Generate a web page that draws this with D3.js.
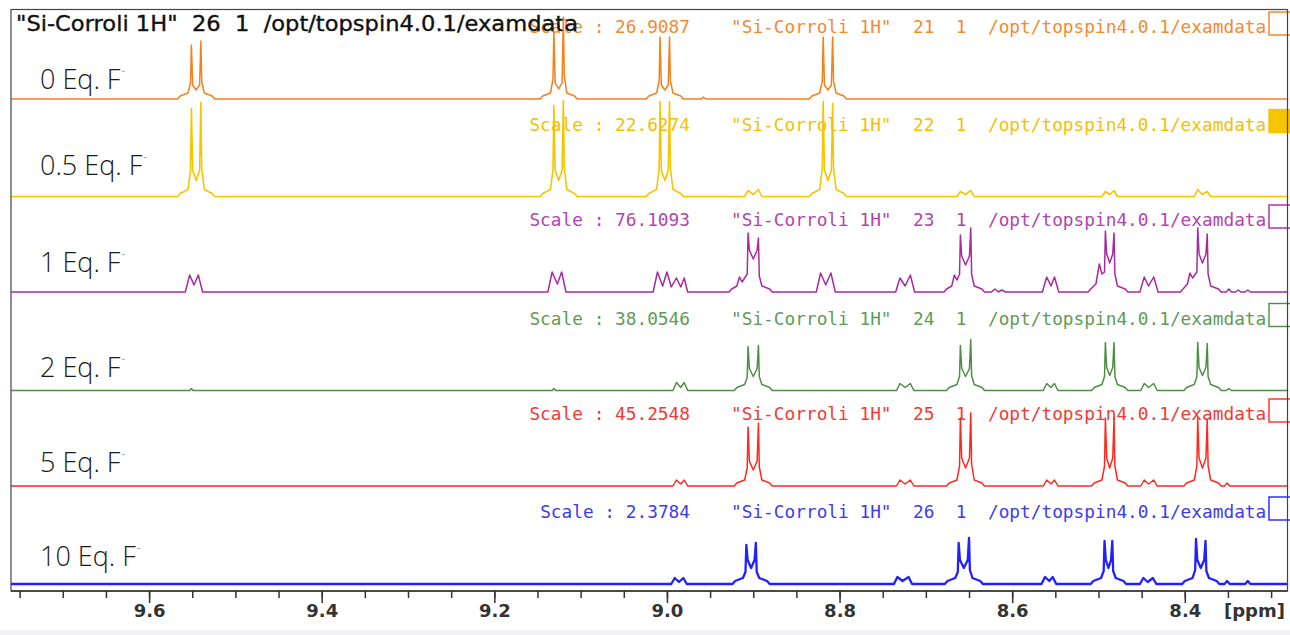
<!DOCTYPE html>
<html><head><meta charset="utf-8">
<script src="https://cdn.jsdelivr.net/npm/d3@7"></script>
<style>
html,body{margin:0;padding:0;background:#fff;}
svg{display:block;}
</style></head><body>
<svg id="chart" width="1290" height="635"></svg>
<script>
// ---------------- data ----------------
const rowLabels = ["0 Eq. F", "0.5 Eq. F", "1 Eq. F", "2 Eq. F", "5 Eq. F", "10 Eq. F"];
const scaleValues = ["26.9087", "22.6274", "76.1093", "38.0546", "45.2548", "2.3784"];
const expNumbers = [21, 22, 23, 24, 25, 26];
const procNumbers = [1, 1, 1, 1, 1, 1];
const datasetName = "Si-Corroli 1H";
const dataPath = "/opt/topspin4.0.1/examdata";
const titleExpno = 26;
const majorTicks = [9.6, 9.4, 9.2, 9.0, 8.8, 8.6, 8.4];
const minorTicks = [9.75, 9.70, 9.65, 9.60, 9.55, 9.50, 9.45, 9.40, 9.35, 9.30, 9.25, 9.20, 9.15, 9.10, 9.05,
  9.00, 8.95, 8.90, 8.85, 8.80, 8.75, 8.70, 8.65, 8.60, 8.55, 8.50, 8.45, 8.40, 8.35, 8.30];
const axisUnit = "[ppm]";

// spectra traces: [ppm, intensity]
const spec0 = [[9.76,0],
  [9.567,0],[9.564,3],[9.555,6],[9.552,16],[9.551,54],[9.5495,14],[9.5455,9],[9.5415,14],[9.540,58],[9.539,17],[9.536,6],[9.527,3],[9.524,0],
  [9.147,0],[9.144,3],[9.135,6],[9.132,20],[9.131,68],[9.1295,16],[9.1255,10],[9.1215,16],[9.120,82],[9.119,24],[9.116,6],[9.107,3],[9.104,0],
  [9.024,0],[9.021,3],[9.012,6],[9.009,18],[9.008,62],[9.0065,14],[9.0025,9],[8.9985,14],[8.997,62],[8.996,18],[8.993,6],[8.984,3],[8.981,0],
  [8.960,0],[8.958,2],[8.955,0],
  [8.835,0],[8.832,3],[8.823,6],[8.820,18],[8.819,62],[8.8175,14],[8.8135,9],[8.8095,14],[8.808,62],[8.807,18],[8.804,6],[8.795,3],[8.792,0],
  [8.28,0]];
const spec1 = [[9.76,0],
  [9.567,0],[9.564,3],[9.555,7],[9.552,26],[9.551,88],[9.5495,26],[9.5455,16],[9.5415,26],[9.540,94],[9.539,28],[9.536,7],[9.527,3],[9.524,0],
  [9.147,0],[9.144,3],[9.135,7],[9.132,27],[9.131,91],[9.1295,26],[9.1255,16],[9.1215,26],[9.120,96],[9.119,29],[9.116,7],[9.107,3],[9.104,0],
  [9.024,0],[9.021,3],[9.012,7],[9.009,28],[9.008,95],[9.0065,26],[9.0025,16],[8.9985,26],[8.997,95],[8.996,28],[8.993,7],[8.984,3],[8.981,0],
  [8.910,0],[8.906,6],[8.900,2],[8.894,7],[8.890,0],
  [8.835,0],[8.832,3],[8.823,7],[8.820,28],[8.819,95],[8.8175,26],[8.8135,16],[8.8095,26],[8.808,93],[8.807,28],[8.804,7],[8.795,3],[8.792,0],
  [8.664,0],[8.660,5],[8.654,2],[8.648,6],[8.644,0],
  [8.496,0],[8.492,5],[8.487,2],[8.482,6],[8.478,0],
  [8.389,0],[8.385,7],[8.380,2],[8.374,5],[8.370,0],
  [8.28,0]];
const spec2 = [[9.76,0],
  [9.558,0],[9.553,17],[9.548,7],[9.543,17],[9.538,0],
  [9.138,0],[9.133,20],[9.127,8],[9.122,20],[9.117,0],
  [9.016,0],[9.011,20],[9.005,6],[9.000,20],[8.995,5],[8.989,14],[8.984,5],[8.980,14],[8.976,0],
  [8.928,0],[8.925,3],[8.919,6],[8.916,15],[8.913,10],[8.907,18],[8.906,59],[8.9045,42],[8.900,33],[8.8955,42],[8.894,54],[8.893,16],[8.890,6],[8.881,3],[8.878,0],
  [8.827,0],[8.822,19],[8.816,7],[8.810,19],[8.805,0],
  [8.735,0],[8.730,14],[8.724,6],[8.718,17],[8.713,0],
  [8.679,0],[8.676,3],[8.670,6],[8.667,17],[8.664,12],[8.661,18],[8.660,57],[8.6585,36],[8.654,27],[8.6495,36],[8.648,64],[8.647,18],[8.644,6],[8.635,3],[8.632,0],
  [8.624,0],[8.620,3],[8.616,0],[8.612,2],[8.608,0],
  [8.565,0],[8.560,15],[8.555,6],[8.551,15],[8.546,0],
  [8.512,0],[8.509,3],[8.503,8],[8.499,28],[8.496,18],[8.493,20],[8.492,61],[8.4905,38],[8.487,29],[8.4835,38],[8.482,59],[8.481,18],[8.478,6],[8.469,3],[8.466,0],
  [8.452,0],[8.447,15],[8.442,6],[8.436,15],[8.431,0],
  [8.405,0],[8.402,3],[8.397,8],[8.394,19],[8.391,14],[8.386,20],[8.385,64],[8.3835,38],[8.3795,29],[8.3755,38],[8.374,58],[8.373,18],[8.370,6],[8.361,3],[8.358,0],
  [8.352,0],[8.349,3],[8.346,0],[8.341,0],[8.338,2],[8.335,0],[8.330,0],[8.327,2],[8.324,0],
  [8.28,0]];
const spec3 = [[9.76,0],[9.553,0],[9.551,2],[9.549,0],[9.133,0],[9.131,2],[9.129,0],
  [8.993,0],[8.989,8],[8.984,3],[8.980,8],[8.976,0],
  [8.922,0],[8.919,3],[8.910,6],[8.907,13],[8.906,44],[8.9045,22],[8.900,14],[8.8955,22],[8.894,45],[8.893,14],[8.890,6],[8.881,3],[8.878,0],
  [8.734,0],[8.730,7],[8.724,3],[8.718,7],[8.714,0],
  [8.676,0],[8.673,3],[8.664,6],[8.661,14],[8.660,45],[8.6585,22],[8.654,14],[8.6495,22],[8.648,51],[8.647,15],[8.644,6],[8.635,3],[8.632,0],
  [8.564,0],[8.560,7],[8.555,3],[8.551,7],[8.547,0],
  [8.508,0],[8.505,3],[8.496,6],[8.493,14],[8.492,48],[8.4905,23],[8.487,15],[8.4835,23],[8.482,48],[8.481,14],[8.478,6],[8.469,3],[8.466,0],
  [8.451,0],[8.447,7],[8.442,3],[8.436,7],[8.432,0],
  [8.401,0],[8.398,3],[8.389,6],[8.386,14],[8.385,48],[8.3835,23],[8.3795,15],[8.3755,23],[8.374,47],[8.373,14],[8.370,6],[8.361,3],[8.358,0],
  [8.352,0],[8.349,2],[8.346,0],
  [8.28,0]];
const spec4 = [[9.76,0],
  [8.993,0],[8.989,6],[8.984,2],[8.980,6],[8.976,0],
  [8.922,0],[8.919,3],[8.910,6],[8.907,18],[8.906,59],[8.9045,25],[8.900,16],[8.8955,25],[8.894,63],[8.893,19],[8.890,6],[8.881,3],[8.878,0],
  [8.734,0],[8.730,6],[8.724,2],[8.718,6],[8.714,0],
  [8.676,0],[8.673,3],[8.664,6],[8.661,20],[8.660,68],[8.6585,28],[8.654,18],[8.6495,28],[8.648,73],[8.647,22],[8.644,6],[8.635,3],[8.632,0],
  [8.564,0],[8.560,6],[8.555,2],[8.551,6],[8.547,0],
  [8.508,0],[8.505,3],[8.496,6],[8.493,20],[8.492,68],[8.4905,28],[8.487,18],[8.4835,28],[8.482,68],[8.481,20],[8.478,6],[8.469,3],[8.466,0],
  [8.451,0],[8.447,6],[8.442,2],[8.436,6],[8.432,0],
  [8.401,0],[8.398,3],[8.389,6],[8.386,20],[8.385,68],[8.3835,28],[8.3795,18],[8.3755,28],[8.374,67],[8.373,20],[8.370,6],[8.361,3],[8.358,0],
  [8.354,0],[8.351,3],[8.348,0],
  [8.28,0]];
const spec5 = [[9.76,0],
  [8.995,0],[8.991,6],[8.986,2],[8.981,6],[8.977,0],
  [8.924,0],[8.921,3],[8.912,6],[8.909,12],[8.908,39],[8.9065,24],[8.9025,16],[8.8985,24],[8.897,41],[8.896,12],[8.893,6],[8.884,3],[8.881,0],
  [8.737,0],[8.733,7],[8.727,3],[8.720,7],[8.716,0],
  [8.678,0],[8.675,3],[8.666,6],[8.663,12],[8.662,41],[8.6605,24],[8.656,16],[8.6515,24],[8.650,46],[8.649,14],[8.646,6],[8.637,3],[8.634,0],
  [8.566,0],[8.562,7],[8.557,3],[8.553,7],[8.549,0],
  [8.509,0],[8.506,3],[8.497,6],[8.494,13],[8.493,43],[8.4915,24],[8.4885,16],[8.4855,24],[8.484,43],[8.483,13],[8.480,6],[8.471,3],[8.468,0],
  [8.452,0],[8.448,6],[8.443,2],[8.437,6],[8.433,0],
  [8.403,0],[8.400,3],[8.391,6],[8.388,14],[8.387,45],[8.3855,24],[8.3815,16],[8.3775,24],[8.376,43],[8.375,13],[8.372,6],[8.363,3],[8.360,0],
  [8.354,0],[8.351,3],[8.348,0],[8.330,0],[8.327,3],[8.324,0],
  [8.28,0]];
const spectra = [spec0, spec1, spec2, spec3, spec4, spec5];

// ---------------- layout / style ----------------
const W = 1290, H = 635;
const frame = {left: 11, right: 1287.5, top: 9.5, bottom: 591};
const rowBaselines = [99, 196.5, 292, 390.5, 486, 584];
const labelBaselines = [89, 175, 272, 377, 472, 566];
const lineColors = ["#f5801e", "#f7c500", "#a82aa3", "#4f8e46", "#ff2a1e", "#2121ff"];
const textColors = ["#f28a33", "#f2c100", "#b045ad", "#5e9b56", "#f23a33", "#3b3bf0"];
const lineWidths = [1.5, 1.6, 1.5, 1.5, 1.5, 2.3];

const svg = d3.select("#chart");
svg.append("rect").attr("width", W).attr("height", H).attr("fill", "#fff");
svg.append("rect").attr("x", 0).attr("y", 630).attr("width", W).attr("height", 5).attr("fill", "#f0f0f5");

const x = d3.scaleLinear().domain([9.76, 8.281]).range([frame.left, frame.right]);

svg.append("defs").append("clipPath").attr("id", "clip")
  .append("rect").attr("x", frame.left).attr("y", 0)
  .attr("width", frame.right - frame.left).attr("height", frame.bottom);

// header texts per row
const mono = "'DejaVu Sans Mono', 'Liberation Mono', monospace";
const rows = svg.append("g");
rowBaselines.forEach((b, i) => {
  const ty = b - 66;
  const g = rows.append("g");
  g.append("text").attr("x", 690).attr("y", ty).attr("text-anchor", "end")
    .attr("font-family", mono).attr("font-size", 17.8).attr("fill", textColors[i])
    .text("Scale : " + scaleValues[i]);
  g.append("text").attr("x", 731).attr("y", ty)
    .attr("font-family", mono).attr("font-size", 17.8).attr("fill", textColors[i])
    .style("white-space", "pre")
    .text('"' + datasetName + '"  ' + expNumbers[i] + "  " + procNumbers[i] + "  " + dataPath);
  g.append("rect").attr("x", 1269).attr("y", ty - 21).attr("width", 26).attr("height", 23)
    .attr("fill", i === 1 ? lineColors[i] : "#fff")
    .attr("stroke", lineColors[i]).attr("stroke-width", 1.4);
});

// title (black)
svg.append("text").attr("x", 16).attr("y", 31)
  .attr("font-family", "'DejaVu Sans', sans-serif").attr("font-size", 21).attr("fill", "#111")
  .attr("stroke", "#111").attr("stroke-width", 0.35)
  .attr("textLength", 562).attr("lengthAdjust", "spacingAndGlyphs")
  .style("white-space", "pre")
  .text('"' + datasetName + '"  ' + titleExpno + "  1  " + dataPath);

// row labels
rowLabels.forEach((t, i) => {
  const tx = svg.append("text").attr("x", 40).attr("y", labelBaselines[i])
    .attr("font-family", "'Open Sans', sans-serif").attr("font-weight", 300)
    .attr("font-size", 27).attr("fill", "#1a1a1a");
  tx.append("tspan").text(t);
  tx.append("tspan").attr("font-size", 11).attr("dy", -14).attr("dx", 1).attr("fill", "#555").text("-");
});

// spectra
const specG = svg.append("g").attr("clip-path", "url(#clip)");
spectra.forEach((s, i) => {
  const y = d3.scaleLinear().domain([0, 100]).range([rowBaselines[i], rowBaselines[i] - 100]);
  const line = d3.line().x(d => x(d[0])).y(d => y(d[1]));
  specG.append("path").datum(s).attr("d", line)
    .attr("fill", "none").attr("stroke", lineColors[i])
    .attr("stroke-width", lineWidths[i]).attr("stroke-linejoin", "round");
});

// frame
svg.append("rect").attr("x", frame.left).attr("y", frame.top)
  .attr("width", frame.right - frame.left).attr("height", frame.bottom - frame.top)
  .attr("fill", "none").attr("stroke", "#444").attr("stroke-width", 1.2);

// axes
const axMinor = d3.axisBottom(x).tickValues(minorTicks).tickSize(7).tickFormat("");
const axMajor = d3.axisBottom(x).tickValues(majorTicks).tickSize(12).tickSizeOuter(0)
  .tickPadding(1.5).tickFormat(d3.format(".1f"));
const gMin = svg.append("g").attr("transform", `translate(0,${frame.bottom})`).call(axMinor);
const gMaj = svg.append("g").attr("transform", `translate(0,${frame.bottom})`).call(axMajor);
[gMin, gMaj].forEach(g => {
  g.select(".domain").remove();
  g.selectAll(".tick line").attr("stroke", "#333").attr("stroke-width", 1.5);
});
gMaj.selectAll(".tick text").attr("font-family", "'DejaVu Sans', sans-serif")
  .attr("font-weight", "bold").attr("font-size", 18).attr("fill", "#333");
svg.append("line").attr("x1", frame.left).attr("x2", frame.right)
  .attr("y1", frame.bottom).attr("y2", frame.bottom).attr("stroke", "#333").attr("stroke-width", 1.6);
svg.append("text").attr("x", 1224).attr("y", 617)
  .attr("font-family", "'DejaVu Sans', sans-serif").attr("font-weight", "bold")
  .attr("font-size", 18).attr("fill", "#333").text(axisUnit);
</script>
</body></html>
